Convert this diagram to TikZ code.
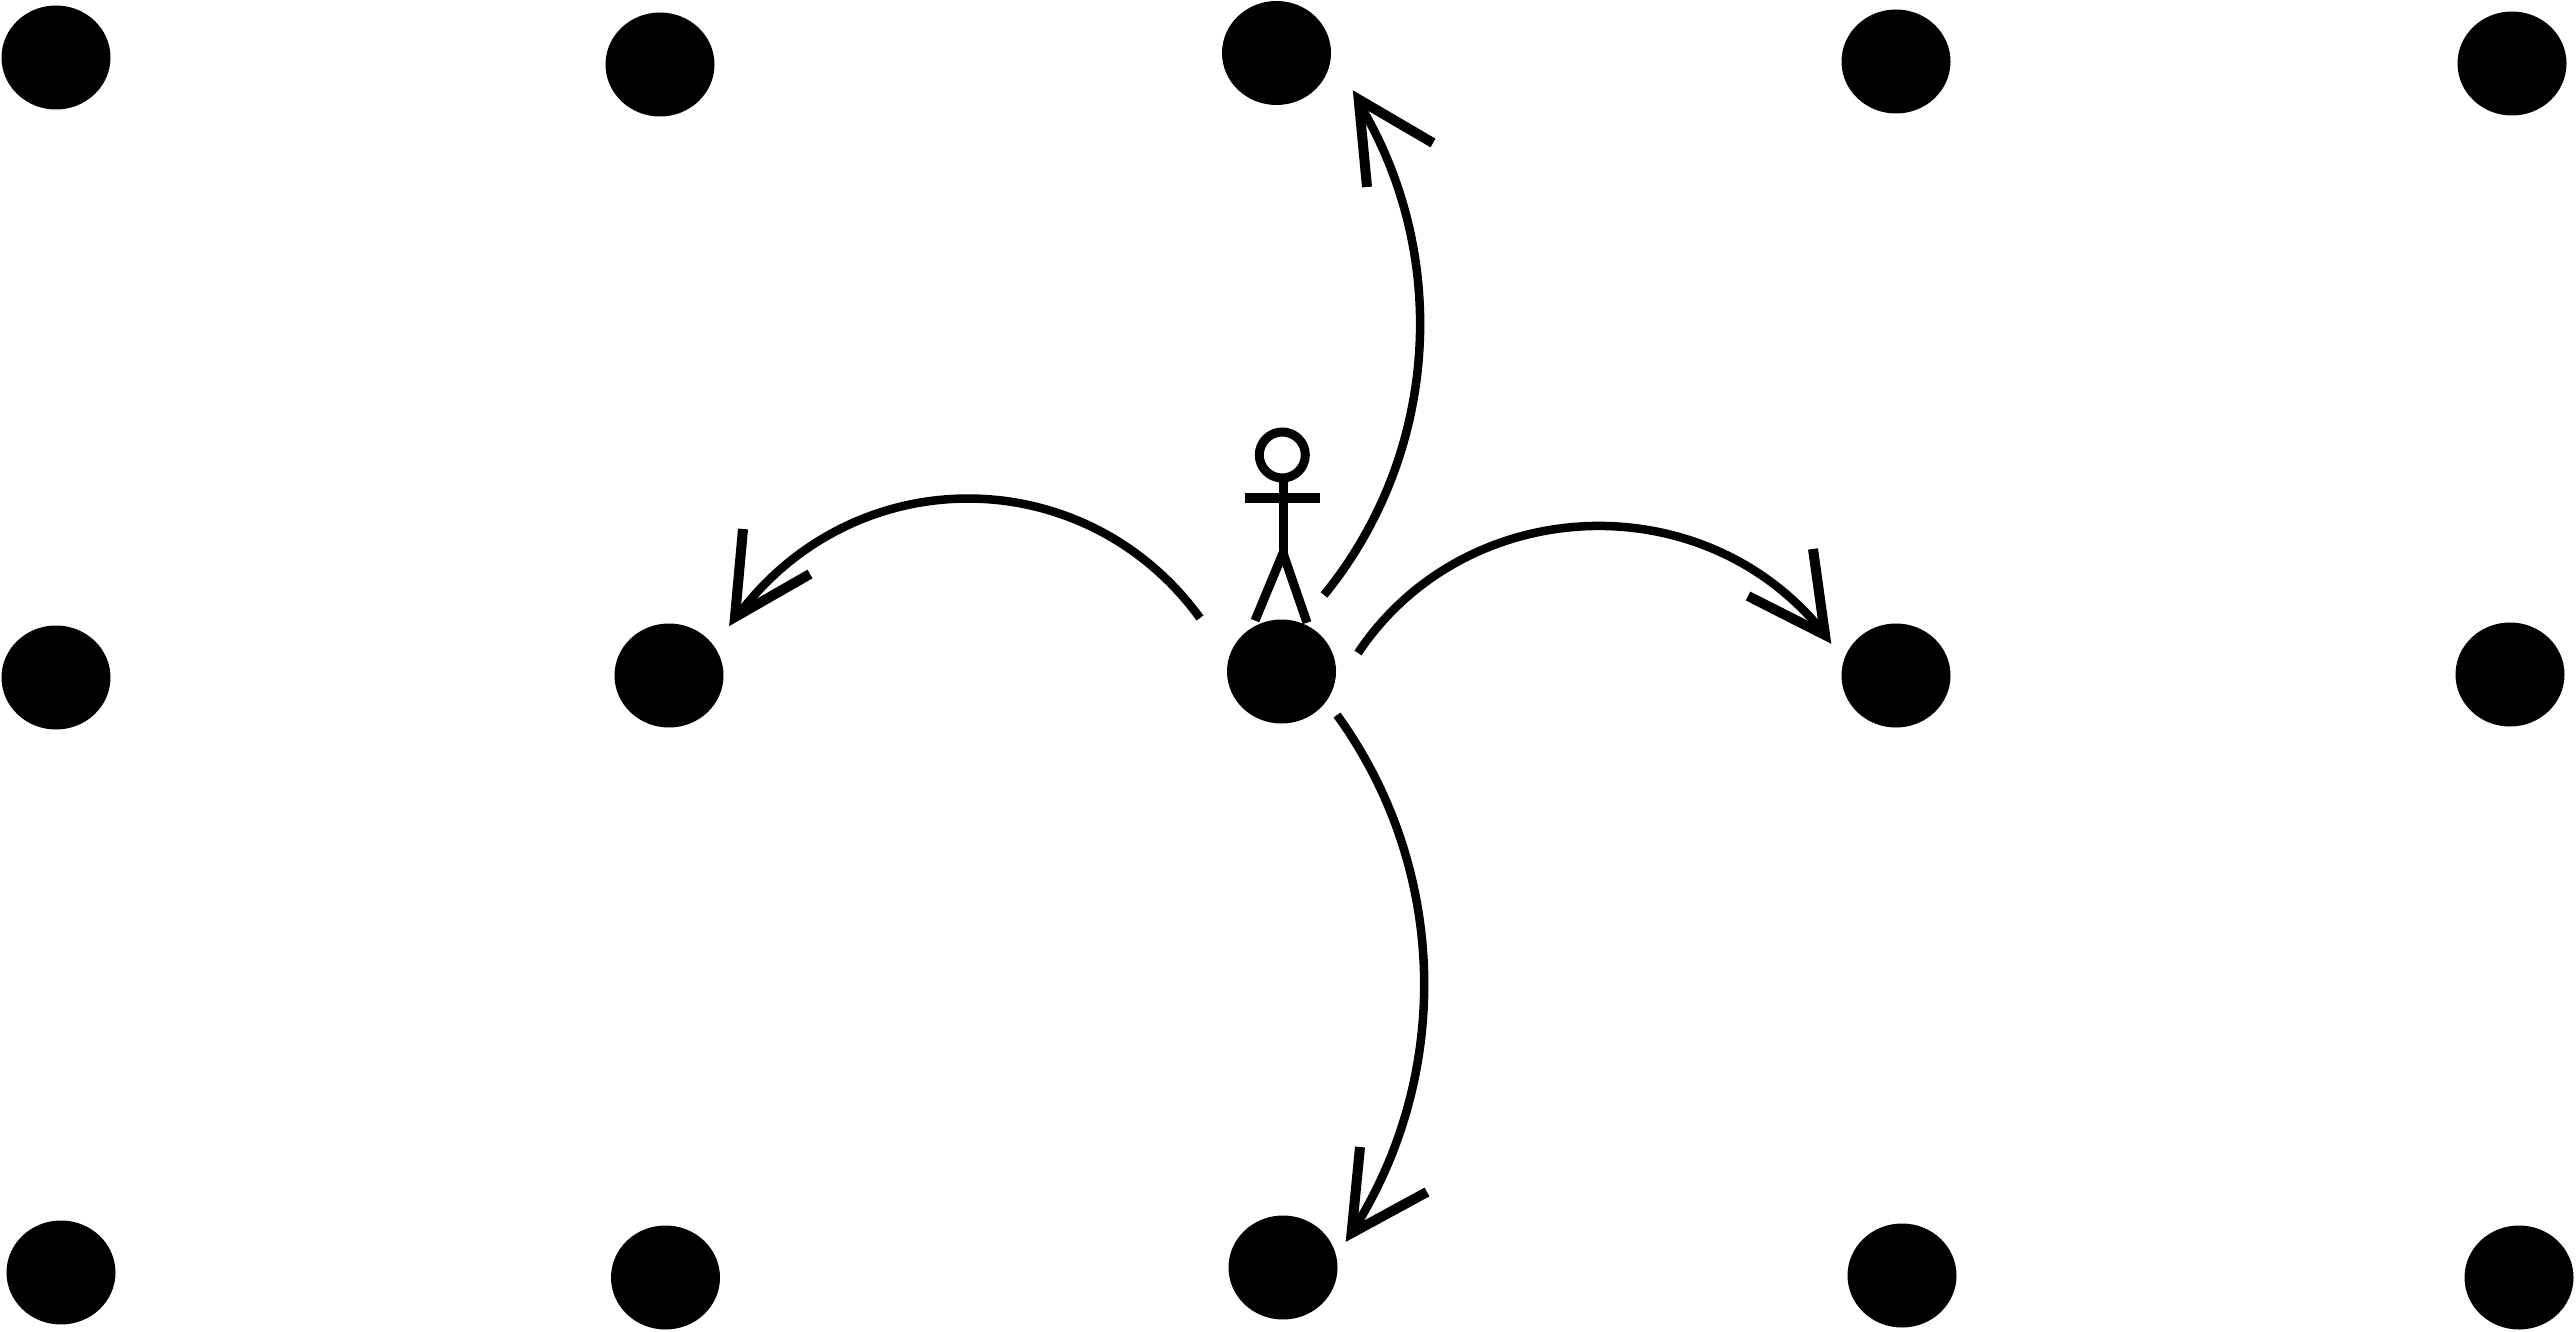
\documentclass[tikz,border=0pt]{standalone}
\usetikzlibrary{shapes.geometric}
\begin{document}
\begin{tikzpicture}[x=1pt,y=-1pt,
  dot/.style={shape=ellipse,fill=black,draw=none,minimum width=109pt,minimum height=104pt,inner sep=0pt,outer sep=0pt},
  trajectory/.style={draw=black,line width=8.5pt},
  barb/.style={draw=black,line width=10pt,miter limit=10,line join=miter},
  limb/.style={draw=black,line width=9pt},
  armline/.style={draw=black,line width=10pt}]
\useasboundingbox (0,0) rectangle (2576,1332);
\fill[white] (0,0) rectangle (2576,1332);
\node[dot] (a1) at (56,57.5) {};
\node[dot] (a2) at (660,64.5) {};
\node[dot] (a3) at (1276.5,53) {};
\node[dot] (a4) at (1896,61.5) {};
\node[dot] (a5) at (2512,63.5) {};
\node[dot] (b1) at (56,677.5) {};
\node[dot] (b2) at (669,675.5) {};
\node[dot] (b3) at (1281.5,671.5) {};
\node[dot] (b4) at (1896,675.5) {};
\node[dot] (b5) at (2510,674.5) {};
\node[dot] (c1) at (61,1272.5) {};
\node[dot] (c2) at (665.5,1277.5) {};
\node[dot] (c3) at (1283,1267.5) {};
\node[dot] (c4) at (1902,1275.5) {};
\node[dot] (c5) at (2519,1277.5) {};
% figure
\draw[limb] (1282.3,455) circle [radius=23];
\draw[limb] (1283,478) -- (1283,553);
\draw[armline] (1245,497.7) -- (1320,497.7);
\draw[limb] (1255,620.6) -- (1283,553) -- (1307,622.7);
% arcs
\coordinate (s1) at (1324,595); \coordinate (e1) at (1360,105);
\coordinate (s2) at (1200,618); \coordinate (e2) at (742,610);
\coordinate (s3) at (1358,653); \coordinate (e3) at (1818,626);
\coordinate (s4) at (1337,715); \coordinate (e4) at (1354,1229);
\draw[trajectory] (s1) to[bend right=35,looseness=.935] (e1);
\draw[trajectory] (s2) to[bend right=53,looseness=1.075] (e2);
\draw[trajectory] (s3) to[bend left=53,looseness=1.05] (e3);
\draw[trajectory] (s4) to[bend left=34,looseness=.93] (e4);
% heads
\draw[barb] (1367,187) -- (1358.7,99.5) -- (1433,143);
\draw[barb] (743,529) -- (735,617) -- (810,574);
\draw[barb] (1813,549) -- (1825,635) -- (1748,596);
\draw[barb] (1360,1147) -- (1351.6,1233) -- (1427,1192);
\end{tikzpicture}
\end{document}
